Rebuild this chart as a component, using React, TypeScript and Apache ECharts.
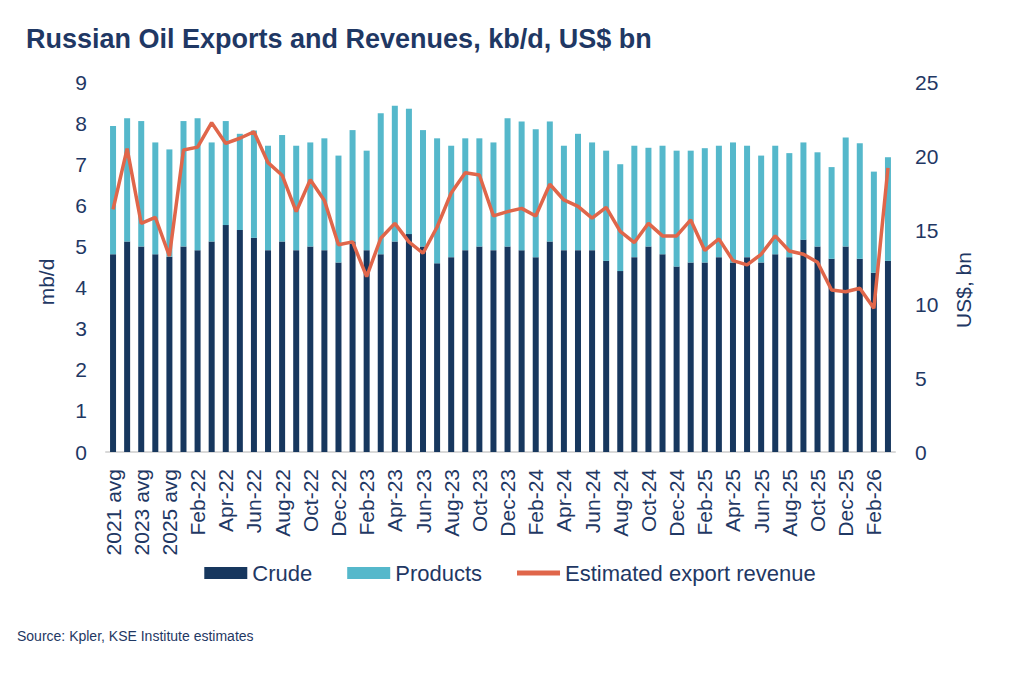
import React, { useEffect, useRef } from "react";
import * as echarts from "echarts";

const categories: string[] = [
  "2021 avg", "2022 avg", "2023 avg", "2024 avg", "2025 avg",
  "Jan-22", "Feb-22", "Mar-22", "Apr-22", "May-22", "Jun-22", "Jul-22", "Aug-22", "Sep-22", "Oct-22", "Nov-22", "Dec-22",
  "Jan-23", "Feb-23", "Mar-23", "Apr-23", "May-23", "Jun-23", "Jul-23", "Aug-23", "Sep-23", "Oct-23", "Nov-23", "Dec-23",
  "Jan-24", "Feb-24", "Mar-24", "Apr-24", "May-24", "Jun-24", "Jul-24", "Aug-24", "Sep-24", "Oct-24", "Nov-24", "Dec-24",
  "Jan-25", "Feb-25", "Mar-25", "Apr-25", "May-25", "Jun-25", "Jul-25", "Aug-25", "Sep-25", "Oct-25", "Nov-25", "Dec-25",
  "Jan-26", "Feb-26", "Mar-26",
];

const crude: number[] = [
  4.81, 5.12, 5.0, 4.81, 4.75,
  5.0, 4.91, 5.12, 5.52, 5.4, 5.21, 4.91, 5.12, 4.91, 5.0, 4.91, 4.61,
  5.12, 4.91, 4.81, 5.12, 5.3, 5.0, 4.59, 4.74, 4.91, 5.0, 4.91, 5.0,
  4.91, 4.74, 5.12, 4.91, 4.91, 4.91, 4.65, 4.4, 4.74, 5.0, 4.81, 4.51,
  4.61, 4.61, 4.74, 4.61, 4.74, 4.61, 4.81, 4.74, 5.16, 5.0, 4.7, 5.0,
  4.7, 4.36, 4.65,
];

const products: number[] = [
  3.12, 3.0, 3.05, 2.72, 2.61,
  3.05, 3.21, 2.41, 2.53, 2.34, 2.61, 2.54, 2.59, 2.54, 2.53, 2.72, 2.6,
  2.71, 2.42, 3.43, 3.3, 3.05, 2.83, 3.04, 2.71, 2.72, 2.63, 2.62, 3.12,
  3.13, 3.11, 2.92, 2.54, 2.83, 2.62, 2.68, 2.6, 2.71, 2.4, 2.64, 2.82,
  2.72, 2.78, 2.71, 2.92, 2.71, 2.6, 2.64, 2.53, 2.37, 2.29, 2.23, 2.65,
  2.81, 2.46, 2.52,
];

const revenue: number[] = [
  16.4, 20.5, 15.45, 15.86, 13.24,
  20.4, 20.6, 22.25, 20.85, 21.2, 21.64, 19.55, 18.7, 16.24, 18.4, 17.0, 14.0,
  14.2, 11.85, 14.44, 15.45, 14.2, 13.43, 15.2, 17.5, 18.87, 18.72, 15.95, 16.24,
  16.46, 15.95, 18.09, 17.03, 16.6, 15.8, 16.53, 14.9, 14.15, 15.45, 14.6, 14.6,
  15.68, 13.62, 14.4, 12.93, 12.64, 13.36, 14.6, 13.58, 13.36, 12.82, 10.95, 10.83,
  11.06, 9.71, 19.2,
];

const TEXT = "#1F3864";
const FONT = "'Liberation Sans', Arial, sans-serif";

export default function App() {
  const ref = useRef<HTMLDivElement>(null);
  useEffect(() => {
    if (!ref.current) return;
    const chart = echarts.init(ref.current, undefined, { renderer: "svg" });
    chart.setOption({
      animation: false,
      backgroundColor: "#ffffff",
      textStyle: { fontFamily: FONT },
      title: {
        text: "Russian Oil Exports and Revenues, kb/d, US$ bn",
        left: 21,
        top: 20,
        textStyle: { fontSize: 27, fontWeight: "bold", color: TEXT, fontFamily: FONT },
      },
      legend: {
        left: "center",
        top: 557,
        itemWidth: 43,
        itemHeight: 12,
        itemGap: 35,
        textStyle: { fontSize: 22, color: TEXT, fontFamily: FONT },
        data: [
          { name: "Crude", icon: "rect" },
          { name: "Products", icon: "rect" },
          { name: "Estimated export revenue", icon: "path://M0,0 L36,0 L36,4 L0,4 Z" },
        ],
      },
      grid: { left: 106, right: 125, top: 82, bottom: 229, containLabel: false },
      xAxis: {
        type: "category",
        data: categories,
        axisTick: { show: false },
        axisLine: { lineStyle: { color: "#D9D9D9", width: 2 } },
        axisLabel: {
          rotate: 90,
          interval: 1,
          margin: 17,
          fontSize: 21,
          color: TEXT,
          fontFamily: FONT,
        },
      },
      yAxis: [
        {
          type: "value",
          min: 0,
          max: 9,
          interval: 1,
          splitLine: { show: false },
          axisLine: { show: false },
          axisTick: { show: false },
          axisLabel: { fontSize: 21, color: TEXT, margin: 19, fontFamily: FONT },
        },
        {
          type: "value",
          min: 0,
          max: 25,
          interval: 5,
          position: "right",
          splitLine: { show: false },
          axisLine: { show: false },
          axisTick: { show: false },
          axisLabel: { fontSize: 21, color: TEXT, margin: 20, fontFamily: FONT },
        },
      ],
      series: [
        {
          name: "Crude",
          type: "bar",
          stack: "exports",
          data: crude,
          barWidth: 6,
          itemStyle: { color: "#17375E" },
        },
        {
          name: "Products",
          type: "bar",
          stack: "exports",
          data: products,
          barWidth: 6,
          itemStyle: { color: "#55B8CB" },
        },
        {
          name: "Estimated export revenue",
          type: "line",
          yAxisIndex: 1,
          data: revenue,
          symbol: "none",
          lineStyle: { color: "#E0664A", width: 3.5 },
          itemStyle: { color: "#E0664A" },
        },
      ],
      graphic: [
        {
          type: "text",
          x: 46,
          y: 282,
          rotation: Math.PI / 2,
          style: {
            text: "mb/d",
            fontSize: 21,
            fill: TEXT,
            fontFamily: FONT,
            textAlign: "center",
            textVerticalAlign: "middle",
          },
        },
        {
          type: "text",
          x: 963,
          y: 290,
          rotation: Math.PI / 2,
          style: {
            text: "US$, bn",
            fontSize: 21,
            fill: TEXT,
            fontFamily: FONT,
            textAlign: "center",
            textVerticalAlign: "middle",
          },
        },
        {
          type: "text",
          x: 17,
          y: 636,
          style: {
            text: "Source: Kpler, KSE Institute estimates",
            fontSize: 14,
            fill: TEXT,
            fontFamily: FONT,
            textAlign: "left",
            textVerticalAlign: "middle",
          },
        },
      ],
    });
    return () => chart.dispose();
  }, []);
  return (
    <div
      ref={ref}
      style={{ position: "fixed", left: 0, top: 0, width: 1020, height: 681 }}
    />
  );
}
